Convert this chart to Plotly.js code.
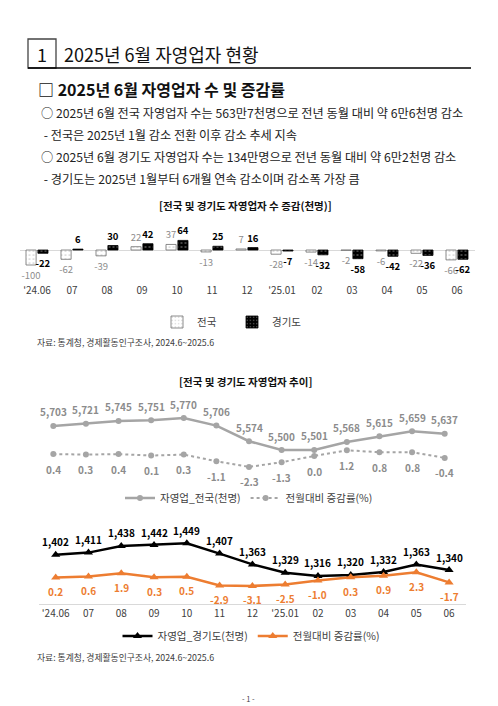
<!DOCTYPE html>
<html>
<head>
<meta charset="utf-8">
<script src="https://cdn.plot.ly/plotly-3.0.1.min.js"></script>
<style>
html,body{margin:0;padding:0;background:#fff;}
#page{width:498px;height:706px;}
</style>
</head>
<body>
<div id="page"></div>
<script>
// ---- data ----
const cats = ["'24.06","07","08","09","10","11","12","'25.01","02","03","04","05","06"];
const natChg = [-100,-62,-39,22,37,-13,7,-28,-14,-2,-6,-22,-66];
const ggChg = [-22,6,30,42,64,25,16,-7,-32,-58,-42,-36,-62];
const natVal = [5703,5721,5745,5751,5770,5706,5574,5500,5501,5568,5615,5659,5637];
const natPct = [0.4,0.3,0.4,0.1,0.3,-1.1,-2.3,-1.3,0.0,1.2,0.8,0.8,-0.4];
const ggVal = [1402,1411,1438,1442,1449,1407,1363,1329,1316,1320,1332,1363,1340];
const ggPct = [0.2,0.6,1.9,0.3,0.5,-2.9,-3.1,-2.5,-1.0,0.3,0.9,2.3,-1.7];

const headTitle = "2025년 6월 자영업자 현황";
const subTitle = "□ 2025년 6월 자영업자 수 및 증감률";
const bodyLines = [
  "○ 2025년 6월 전국 자영업자 수는 563만7천명으로 전년 동월 대비 약 6만6천명 감소",
  " - 전국은 2025년 1월 감소 전환 이후 감소 추세 지속",
  "○ 2025년 6월 경기도 자영업자 수는 134만명으로 전년 동월 대비 약 6만2천명 감소",
  " - 경기도는 2025년 1월부터 6개월 연속 감소이며 감소폭 가장 큼"
];
const barTitle = "[전국 및 경기도 자영업자 수 증감(천명)]";
const lineTitle = "[전국 및 경기도 자영업자 추이]";
const sourceText = "자료: 통계청, 경제활동인구조사, 2024.6~2025.6";

// ---- helpers ----
const W = 498, H = 706;
const px = x => x / W;
const py = y => 1 - y / H;
const KR = "'Noto Sans CJK KR', 'Noto Sans', sans-serif";
const fmt = v => v.toLocaleString('en-US');

const orange = '#ED7D31';
const gray = '#A5A5A5';
const grayText = '#8C8C8C';

// ---- traces ----
const traces = [
  {
    type: 'bar', name: '전국', x: cats, y: natChg, xaxis: 'x', yaxis: 'y', legend: 'legend',
    marker: {color: '#ffffff', line: {color: '#6f6f6f', width: 0.8},
             pattern: {shape: '.', fgcolor: '#c8c8c8', bgcolor: '#ffffff', size: 4, solidity: 0.15}},
    text: natChg.map(String), textposition: 'outside', constraintext: 'none', cliponaxis: false,
    textfont: {color: grayText, size: 9.5, family: KR}
  },
  {
    type: 'bar', name: '경기도', x: cats, y: ggChg, xaxis: 'x', yaxis: 'y', legend: 'legend',
    marker: {color: '#000000', line: {color: '#000000', width: 0.8},
             pattern: {shape: '.', fgcolor: '#5a5a5a', bgcolor: '#000000', size: 4, solidity: 0.2}},
    text: ggChg.map(v => '<b>' + v + '</b>'), textposition: 'outside', constraintext: 'none', cliponaxis: false,
    textfont: {color: '#000000', size: 9.5, family: KR}
  },
  {
    type: 'scatter', mode: 'lines+markers', name: '자영업_전국(천명)', x: cats, y: natVal,
    xaxis: 'x2', yaxis: 'y2', legend: 'legend2',
    line: {color: gray, width: 2.5}, marker: {color: gray, size: 6, symbol: 'circle'}, cliponaxis: false
  },
  {
    type: 'scatter', mode: 'lines+markers', name: '전월대비 증감률(%)', x: cats, y: natPct,
    xaxis: 'x2', yaxis: 'y3', legend: 'legend2',
    line: {color: gray, width: 2, dash: 'dot'}, marker: {color: gray, size: 6, symbol: 'circle'}, cliponaxis: false
  },
  {
    type: 'scatter', mode: 'lines+markers', name: '자영업_경기도(천명)', x: cats, y: ggVal,
    xaxis: 'x3', yaxis: 'y4', legend: 'legend3',
    line: {color: '#000000', width: 2.5}, marker: {color: '#000000', size: 8, symbol: 'triangle-up'}, cliponaxis: false
  },
  {
    type: 'scatter', mode: 'lines+markers', name: '전월대비 증감률(%)', x: cats, y: ggPct,
    xaxis: 'x3', yaxis: 'y5', legend: 'legend3',
    line: {color: orange, width: 2.5}, marker: {color: orange, size: 8, symbol: 'triangle-up'}, cliponaxis: false
  }
];

// ---- annotations ----
const ann = [];
function pageText(text, x, y, size, opts) {
  ann.push(Object.assign({
    text: text, x: px(x), y: py(y), xref: 'paper', yref: 'paper',
    xanchor: 'left', yanchor: 'middle', showarrow: false,
    font: {family: KR, size: size, color: '#111'}
  }, opts || {}));
}
pageText('1', 42, 54, 18, {xanchor: 'center'});
pageText(headTitle, 62, 54, 18);
pageText('<b>' + subTitle + '</b>', 36, 89, 16);
const bodyY = [113, 135, 157, 179];
bodyLines.forEach((t, i) => pageText(t, 39, bodyY[i], 12.2, {font: {family: KR, size: 12.2, color: '#222'}}));
pageText('<b>' + barTitle + '</b>', 245, 205, 10.5, {xanchor: 'center'});
pageText('<b>' + lineTitle + '</b>', 245, 381, 10.5, {xanchor: 'center'});
pageText(sourceText, 35, 342, 8.8, {font: {family: KR, size: 8.8, color: '#404040'}});
pageText(sourceText, 35, 657, 8.8, {font: {family: KR, size: 8.8, color: '#404040'}});
pageText('- 1 -', 248, 698, 7.5, {xanchor: 'center', font: {family: KR, size: 7.5, color: '#404040'}});

// category index positions (numeric-looking category names would be misread as indices)
function dataLabels(xa, ya, vals, texts, shift, color) {
  vals.forEach((v, i) => ann.push({
    x: i, y: v, xref: xa, yref: ya, text: '<b>' + texts[i] + '</b>', showarrow: false,
    yshift: shift, xanchor: 'center', yanchor: 'middle',
    font: {family: KR, size: 10, color: color}
  }));
}
dataLabels('x2', 'y2', natVal, natVal.map(fmt), 14, grayText);
dataLabels('x2', 'y3', natPct, natPct.map(v => v.toFixed(1)), -15, grayText);
dataLabels('x3', 'y4', ggVal, ggVal.map(fmt), 13, '#000000');
dataLabels('x3', 'y5', ggPct, ggPct.map(v => v.toFixed(1)), -14, orange);

// ---- shapes ----
const shapes = [
  {type: 'rect', xref: 'paper', yref: 'paper', x0: px(28), x1: px(56), y0: py(68), y1: py(39),
   line: {color: '#444', width: 1.3}},
  {type: 'line', xref: 'paper', yref: 'paper', x0: px(28), x1: px(471), y0: py(68), y1: py(68),
   line: {color: '#000', width: 1.4}}
];

// ---- layout ----
const hidden = {visible: false, showgrid: false, zeroline: false, fixedrange: true};
const layout = {
  width: W, height: H, margin: {l: 0, r: 0, t: 0, b: 0},
  paper_bgcolor: '#fff', plot_bgcolor: 'rgba(0,0,0,0)',
  font: {family: KR, size: 10, color: '#404040'},
  barmode: 'group', bargap: 0.32, bargroupgap: 0.15,
  xaxis: {domain: [px(19.5), px(474.5)], anchor: 'y', type: 'category', showgrid: false,
          showline: false, ticks: '', tickfont: {size: 10, color: '#404040'}},
  yaxis: {domain: [py(283), py(225)], range: [-220, 166.7], showgrid: false, showticklabels: false,
          zeroline: true, zerolinecolor: '#d9d9d9', zerolinewidth: 1, showline: false},
  xaxis2: Object.assign({}, hidden, {domain: [px(37), px(461)], anchor: 'y2', type: 'category', range: [-0.5, 12.5]}),
  yaxis2: Object.assign({}, hidden, {domain: [py(475), py(400)], anchor: 'x2', range: [5289, 5922]}),
  yaxis3: Object.assign({}, hidden, {overlaying: 'y2', anchor: 'x2', range: [-3.99, 11.76]}),
  xaxis3: {domain: [px(39.3), px(465.5)], anchor: 'y4', type: 'category', range: [-0.5, 12.5],
           showgrid: false, zeroline: false, showline: true, linecolor: '#d9d9d9', linewidth: 1,
           ticks: '', tickfont: {size: 10, color: '#404040'}},
  yaxis4: Object.assign({}, hidden, {domain: [py(604), py(530)], anchor: 'x3', range: [1202, 1503]}),
  yaxis5: Object.assign({}, hidden, {overlaying: 'y4', anchor: 'x3', range: [-10.2, 18.9]}),
  legend: {x: px(232), y: py(322), xanchor: 'center', yanchor: 'middle', orientation: 'h',
           font: {size: 10.5, color: '#404040'}, bgcolor: 'rgba(0,0,0,0)', itemwidth: 30,
           entrywidth: 30, entrywidthmode: 'pixels'},
  legend2: {x: px(249), y: py(498), xanchor: 'center', yanchor: 'middle', orientation: 'h',
           font: {size: 10.5, color: '#404040'}, bgcolor: 'rgba(0,0,0,0)'},
  legend3: {x: px(251), y: py(636), xanchor: 'center', yanchor: 'middle', orientation: 'h',
           font: {size: 10.5, color: '#404040'}, bgcolor: 'rgba(0,0,0,0)'},
  annotations: ann,
  shapes: shapes
};

Plotly.newPlot('page', traces, layout, {staticPlot: true, displayModeBar: false});
</script>
</body>
</html>
